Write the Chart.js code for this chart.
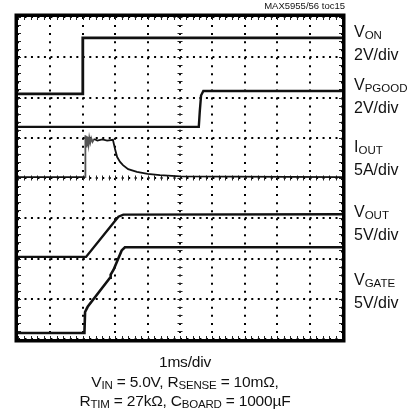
<!DOCTYPE html>
<html>
<head>
<meta charset="utf-8">
<script src="https://cdn.jsdelivr.net/npm/chart.js@4.4.1/dist/chart.umd.min.js"></script>
<style>
  body { margin:0; background:#fff; }
  #wrap { position:relative; width:417px; height:416px; overflow:hidden;
          font-family:"Liberation Sans", Arial, sans-serif; color:#111; }
  canvas { position:absolute; left:0; top:0; }
  .lbl { position:absolute; left:354px; font-size:16px; line-height:21px; white-space:nowrap; }
  .btm { position:absolute; left:0; width:370px; text-align:center; font-size:15.5px; line-height:19.5px; white-space:nowrap; letter-spacing:-0.2px; }
  .s { font-size:11.5px; position:relative; top:1.5px; }
  #ref { position:absolute; right:72px; top:0px; font-size:9.5px; line-height:12px; }
</style>
</head>
<body>
<div id="wrap">
  <canvas id="scope" width="417" height="416"></canvas>
  <div id="ref">MAX5955/56 toc15</div>
  <div class="lbl" style="top:21px">V<span class="s">ON</span><br>2V/div</div>
  <div class="lbl" style="top:74px">V<span class="s">PGOOD</span><br>2V/div</div>
  <div class="lbl" style="top:136px">I<span class="s">OUT</span><br>5A/div</div>
  <div class="lbl" style="top:201px">V<span class="s">OUT</span><br>5V/div</div>
  <div class="lbl" style="top:269px">V<span class="s">GATE</span><br>5V/div</div>
  <div class="btm" style="top:352px">1ms/div</div>
  <div class="btm" style="top:372px">V<span class="s">IN</span> = 5.0V, R<span class="s">SENSE</span> = 10m&Omega;,</div>
  <div class="btm" style="top:391px">R<span class="s">TIM</span> = 27k&Omega;, C<span class="s">BOARD</span> = 1000&micro;F</div>
</div>
<script>
// time in divisions (1ms/div), level in divisions from bottom of screen
const vOnT = [0, 2.0, 2.0, 10];
const vOnV = [6.09, 6.09, 7.48, 7.48];

const vPgoodT = [0, 5.58, 5.61, 5.65, 5.72, 10];
const vPgoodV = [5.27, 5.27, 5.65, 6.05, 6.16, 6.16];

const iOutT = [0, 2.07, 2.08, 2.10, 2.12, 2.14, 2.16, 2.18, 2.20, 2.23, 2.26, 2.30, 2.35, 2.45, 2.6, 2.75, 2.93,
               3.0, 3.06, 3.15, 3.24, 3.4, 3.67, 4.0, 4.38, 5.0, 10];
const iOutV = [4.02, 4.02, 5.06, 4.78, 5.04, 4.82, 5.02, 4.85, 5.0, 4.88, 4.99, 4.9, 4.97, 4.93, 4.96, 4.93, 4.95,
               4.7, 4.52, 4.4, 4.32, 4.22, 4.15, 4.1, 4.07, 4.04, 4.02];

const vOutT = [0, 2.1, 2.98, 3.1, 3.25, 10];
const vOutV = [2.04, 2.04, 2.92, 3.04, 3.09, 3.1];

const vGateT = [0, 2.05, 2.07, 2.15, 2.84, 2.86, 2.95, 3.2, 3.3, 10];
const vGateV = [0.15, 0.15, 0.67, 0.8, 1.52, 1.6, 1.72, 2.2, 2.28, 2.28];

const xDivs = 10;
const yDivs = 8;

function pts(t, v){
    return t.map((x, i) => ({x: x, y: v[i]}));
}

function trace(t, v, w){
    return {
        data: pts(t, v),
        borderColor: "#111",
        borderWidth: w,
        pointRadius: 0,
        tension: 0,
        fill: false
    };
}

// frame, minor ticks on edges and center cross
const scopeFrame = {
    id: "scopeFrame",
    beforeDatasetsDraw(chart){
        const ctx = chart.ctx;
        const xs = chart.scales.x;
        const ys = chart.scales.y;
        const a = chart.chartArea;
        ctx.save();
        ctx.strokeStyle = "#222";
        ctx.lineWidth = 1;
        const cy = ys.getPixelForValue(yDivs / 2);
        const cx = xs.getPixelForValue(xDivs / 2);
        for(let i = 0; i <= xDivs * 5; i++){
            const px = Math.round(xs.getPixelForValue(i / 5)) + 0.5;
            ctx.beginPath();
            ctx.moveTo(px, cy - 2.5); ctx.lineTo(px, cy + 2.5);
            ctx.moveTo(px, a.top); ctx.lineTo(px, a.top + 3);
            ctx.moveTo(px, a.bottom); ctx.lineTo(px, a.bottom - 3);
            ctx.stroke();
        }
        for(let i = 0; i <= yDivs * 5; i++){
            const py = Math.round(ys.getPixelForValue(i / 5)) + 0.5;
            ctx.beginPath();
            ctx.moveTo(cx - 2.5, py); ctx.lineTo(cx + 2.5, py);
            ctx.moveTo(a.left, py); ctx.lineTo(a.left + 3, py);
            ctx.moveTo(a.right, py); ctx.lineTo(a.right - 3, py);
            ctx.stroke();
        }
        ctx.restore();
    },
    afterDraw(chart){
        const ctx = chart.ctx;
        const a = chart.chartArea;
        ctx.save();
        ctx.strokeStyle = "#000";
        ctx.lineWidth = 3.5;
        ctx.strokeRect(a.left - 1.75, a.top - 1.75, a.right - a.left + 3.5, a.bottom - a.top + 3.5);
        ctx.restore();
    }
};

const iOutTrace = trace(iOutT, iOutV, 1.8);
iOutTrace.segment = {
    borderColor: c => (c.p0.parsed.x >= 2.07 && c.p1.parsed.x <= 2.4) ? "#555" : "#111"
};

new Chart(document.getElementById("scope"), {
    type: "line",
    data: {
        datasets: [
            trace(vOnT, vOnV, 2.8),
            trace(vPgoodT, vPgoodV, 2.4),
            iOutTrace,
            trace(vOutT, vOutV, 2.4),
            trace(vGateT, vGateV, 2.6)
        ]
    },
    options: {
        responsive: false,
        animation: false,
        layout: { padding: { left: 18, top: 17, right: 75, bottom: 77 } },
        plugins: { legend: { display: false }, tooltip: { enabled: false } },
        scales: {
            x: {
                type: "linear", min: 0, max: xDivs,
                ticks: { display: false, stepSize: 1 },
                grid: { color: "#000", lineWidth: 2, drawTicks: false },
                border: { display: false, dash: [2, 6.05] }
            },
            y: {
                type: "linear", min: 0, max: yDivs,
                ticks: { display: false, stepSize: 1 },
                grid: { color: "#000", lineWidth: 2, drawTicks: false },
                border: { display: false, dash: [2, 4.48] }
            }
        }
    },
    plugins: [scopeFrame]
});
</script>
</body>
</html>
